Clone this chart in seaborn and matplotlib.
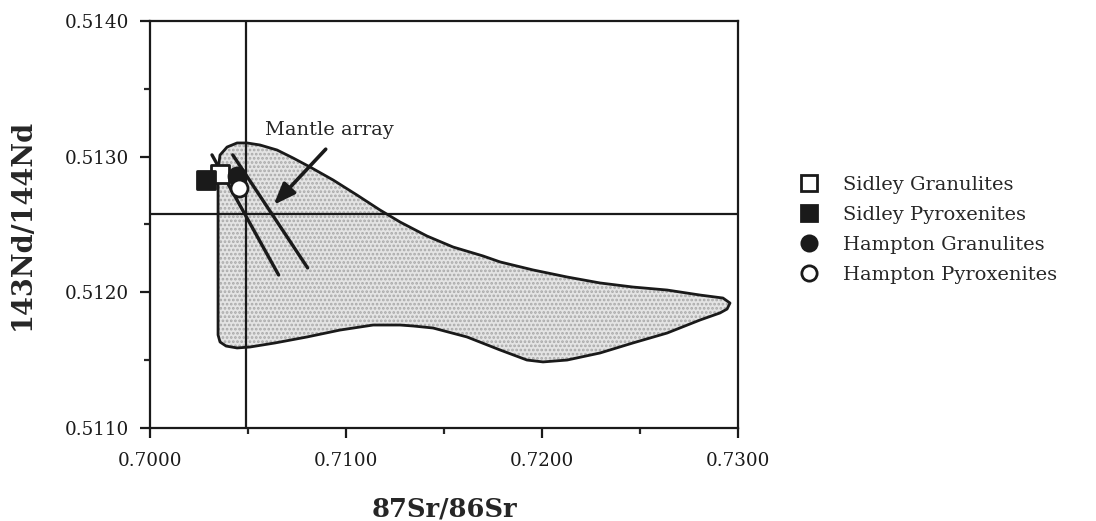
import matplotlib
matplotlib.use("Agg")
import matplotlib.pyplot as plt
import pandas as pd
import seaborn as sns
from matplotlib.lines import Line2D
from matplotlib.patches import Polygon
from matplotlib.ticker import FormatStrFormatter, MultipleLocator

# sample groups (87Sr/86Sr, 143Nd/144Nd)
groups = ["Sidley Granulites", "Sidley Pyroxenites", "Hampton Granulites", "Hampton Pyroxenites"]
sr_values = [0.70356, 0.70285, 0.70443, 0.70453]
nd_values = [0.512873, 0.512828, 0.512858, 0.512769]

# shaded field outline, clockwise from lower left
field_sr = [0.70347, 0.70347, 0.70347, 0.70347, 0.70347, 0.70357, 0.70393, 0.70444,
            0.70495, 0.70561, 0.70648, 0.70730, 0.70816, 0.70934, 0.71056, 0.71173,
            0.71276, 0.71413, 0.71546, 0.71699, 0.71786, 0.71954, 0.72128, 0.72296,
            0.72464, 0.72638, 0.72806, 0.72923, 0.72959, 0.72944, 0.72908, 0.72806,
            0.72638, 0.72464, 0.72296, 0.72128, 0.72005, 0.71923, 0.71786, 0.71617,
            0.71444, 0.71342, 0.71276, 0.71138, 0.70969, 0.70801, 0.70638, 0.70510,
            0.70444, 0.70388, 0.70357]
field_nd = [0.511686, 0.511944, 0.512312, 0.512681, 0.512902, 0.513012, 0.513071, 0.513101,
            0.513101, 0.513086, 0.513049, 0.512990, 0.512924, 0.512828, 0.512717, 0.512607,
            0.512518, 0.512415, 0.512334, 0.512268, 0.512224, 0.512165, 0.512113, 0.512069,
            0.512039, 0.512017, 0.511980, 0.511958, 0.511921, 0.511877, 0.511848, 0.511796,
            0.511700, 0.511627, 0.511553, 0.511501, 0.511487, 0.511501, 0.511575, 0.511671,
            0.511737, 0.511752, 0.511759, 0.511759, 0.511722, 0.511671, 0.511627, 0.511597,
            0.511590, 0.511604, 0.511634]

# mantle array segments
mantle_sr = [[0.70316, 0.70656], [0.70422, 0.70804]]
mantle_nd = [[0.513013, 0.512128], [0.513013, 0.512180]]

bulk_earth_sr = 0.7049
bulk_earth_nd = 0.51258

INK = "#1a1a1a"

sns.set_style("ticks")
plt.rcParams["font.family"] = ["DejaVu Serif"]
plt.rcParams["hatch.linewidth"] = 1.3

fig = plt.figure(figsize=(10.96, 5.21), dpi=100)
ax = fig.add_axes([0.1369, 0.1785, 0.5365, 0.7812])

pts = list(zip(field_sr, field_nd))
# stipple fill first, outline on top
ax.add_patch(Polygon(pts, closed=True, facecolor="#e4e4e4", edgecolor="#a9a9a9",
                     linewidth=0, hatch="....", zorder=1))
ax.add_patch(Polygon(pts, closed=True, facecolor="none", edgecolor=INK,
                     linewidth=2.0, joinstyle="round", zorder=1.5))

ax.axvline(bulk_earth_sr, color=INK, linewidth=1.6, zorder=2)
ax.axhline(bulk_earth_nd, color=INK, linewidth=1.6, zorder=2)

for xs, ys in zip(mantle_sr, mantle_nd):
    sns.lineplot(x=xs, y=ys, ax=ax, color=INK, linewidth=2.4, sort=False, zorder=3)

styles = {
    "Sidley Granulites": dict(marker="s", facecolor="white"),
    "Sidley Pyroxenites": dict(marker="s", facecolor=INK),
    "Hampton Granulites": dict(marker="o", facecolor=INK),
    "Hampton Pyroxenites": dict(marker="o", facecolor="white"),
}
df = pd.DataFrame({"group": groups, "sr": sr_values, "nd": nd_values})
for g in groups:
    sub = df[df["group"] == g]
    st = styles[g]
    sns.scatterplot(data=sub, x="sr", y="nd", ax=ax, marker=st["marker"], s=150,
                    facecolor=st["facecolor"], edgecolor=INK, linewidth=2.0,
                    zorder=4, legend=False)

ax.annotate("", xy=(0.70621, 0.51263), xytext=(0.70906, 0.51307),
            arrowprops=dict(arrowstyle="-|>,head_length=1.3,head_width=0.5",
                            color=INK, linewidth=2.6), zorder=5)
ax.text(0.70585, 0.513197, "Mantle array", fontsize=14, ha="left", va="center")

ax.set_xlim(0.7000, 0.7300)
ax.set_ylim(0.5110, 0.5140)
ax.xaxis.set_major_locator(MultipleLocator(0.01))
ax.xaxis.set_minor_locator(MultipleLocator(0.005))
ax.yaxis.set_major_locator(MultipleLocator(0.001))
ax.yaxis.set_minor_locator(MultipleLocator(0.0005))
ax.xaxis.set_major_formatter(FormatStrFormatter("%.4f"))
ax.yaxis.set_major_formatter(FormatStrFormatter("%.4f"))
ax.tick_params(which="major", direction="out", length=7, width=1.6, labelsize=13.2, colors=INK)
ax.tick_params(which="minor", direction="out", length=4.5, width=1.6)
ax.tick_params(axis="x", which="major", pad=10)
ax.tick_params(axis="y", which="major", pad=8)
for sp in ax.spines.values():
    sp.set_linewidth(1.6)
    sp.set_color(INK)

ax.set_xlabel("87Sr/86Sr", fontsize=18.5, fontweight="bold", labelpad=19)
ax.set_ylabel("143Nd/144Nd", fontsize=19.5, fontweight="bold", labelpad=21)

handles = [
    Line2D([], [], linestyle="none", marker=styles[g]["marker"], markersize=11,
           markerfacecolor=styles[g]["facecolor"], markeredgecolor=INK,
           markeredgewidth=2.0, label=g)
    for g in groups
]
fig.legend(handles=handles, loc="upper left", bbox_to_anchor=(0.72, 0.662),
           frameon=False, fontsize=14, handletextpad=0.75, labelspacing=0.62,
           borderpad=0, borderaxespad=0)

fig.savefig("out.png", dpi=100)
